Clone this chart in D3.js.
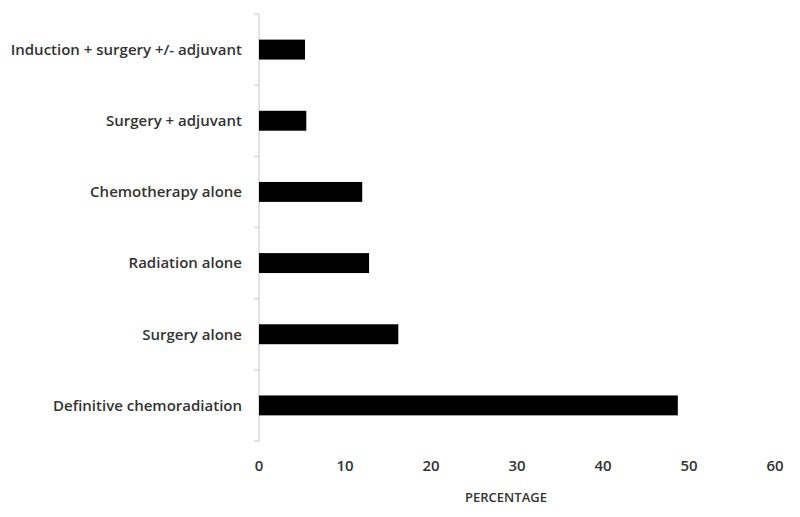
<!DOCTYPE html>
<html><head><meta charset="utf-8">
<script src="https://cdn.jsdelivr.net/npm/d3@7"></script>
<style>body{margin:0;background:#fff;} text{font-family:"Open Sans",sans-serif;}</style>
</head><body>
<svg id="c" width="800" height="517"></svg>
<script>
const categories = ["Induction + surgery +/- adjuvant","Surgery + adjuvant","Chemotherapy alone","Radiation alone","Surgery alone","Definitive chemoradiation"];
const values = [5.35, 5.5, 12.0, 12.8, 16.2, 48.7];
const xTicks = [0,10,20,30,40,50,60];
const xTitle = "PERCENTAGE";

const svg = d3.select("#c");
const x = d3.scaleLinear().domain([0,60]).range([259,775]);
const y = d3.scaleBand().domain(categories).range([14,441]).paddingInner(0.72).paddingOuter(0.36);

// y axis line
svg.append("line").attr("x1",259).attr("x2",259).attr("y1",14).attr("y2",441).attr("stroke","#d9d9d9").attr("stroke-width",1.5);
const bounds = d3.range(categories.length+1).map(i=>14+i*(427/categories.length));
svg.selectAll(".tk").data(bounds).enter().append("line")
  .attr("x1",254).attr("x2",259).attr("y1",d=>d).attr("y2",d=>d).attr("stroke","#d9d9d9").attr("stroke-width",1.5);

svg.selectAll(".bar").data(categories).enter().append("rect")
  .attr("x",x(0)).attr("y",d=>y(d)).attr("height",y.bandwidth())
  .attr("width",(d,i)=>x(values[i])-x(0)).attr("fill","#000");

svg.selectAll(".cl").data(categories).enter().append("text")
  .attr("x",242).attr("y",d=>y(d)+y.bandwidth()/2).attr("dy","0.35em")
  .attr("text-anchor","end").attr("font-size",15).attr("font-weight",600).attr("fill","#333").text(d=>d);

svg.selectAll(".xl").data(xTicks).enter().append("text")
  .attr("x",d=>x(d)).attr("y",471).attr("text-anchor","middle").attr("font-size",15).attr("font-weight",600).attr("fill","#333").text(d=>d);

svg.append("text").attr("x",506).attr("y",502).attr("text-anchor","middle").attr("font-size",13).attr("font-weight",600).attr("fill","#333").text(xTitle);
</script>
</body></html>
